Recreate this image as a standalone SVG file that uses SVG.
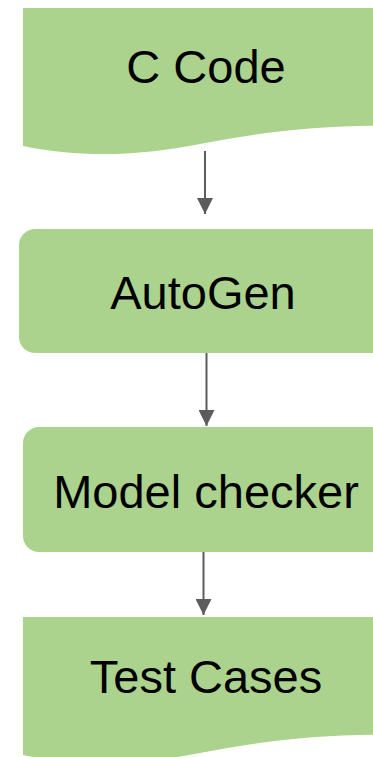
<svg xmlns="http://www.w3.org/2000/svg" width="373" height="757" viewBox="0 0 373 757">
  <style>
    .shape { fill: #acd38e; stroke: none; }
    .label { font-family: "Liberation Sans", Arial, sans-serif; font-size: 47px; fill: #000; text-anchor: middle; }
    .edge { stroke: #5c5c5c; stroke-width: 2; fill: none; }
  </style>
  <defs>
    <marker id="arrow" viewBox="0 0 16 16" refX="16" refY="8" markerWidth="16" markerHeight="16" markerUnits="userSpaceOnUse" orient="auto">
      <path d="M0,0 L16,8 L0,16 Z" fill="#5c5c5c"/>
    </marker>
  </defs>

  <g id="c-code">
    <path class="shape" d="M23,8 H395 V126 C330,124 260,132 200,144 C140,156 80,158 23,146 Z"/>
    <text class="label" x="206" y="83">C Code</text>
  </g>

  <g id="autogen">
    <rect class="shape" x="19" y="229" width="380" height="124" rx="16" ry="16"/>
    <text class="label" x="203" y="309">AutoGen</text>
  </g>

  <g id="model-checker">
    <rect class="shape" x="23" y="427" width="376" height="125" rx="16" ry="16"/>
    <text class="label" x="206" y="508">Model checker</text>
  </g>

  <g id="test-cases">
    <path class="shape" d="M23,617 H395 V735 C330,733 260,741 200,753 C140,765 80,767 23,755 Z"/>
    <text class="label" x="206" y="693">Test Cases</text>
  </g>

  <g id="connectors">
    <line class="edge" x1="205" y1="151" x2="205" y2="214" marker-end="url(#arrow)"/>
    <line class="edge" x1="206.5" y1="353" x2="206.5" y2="426" marker-end="url(#arrow)"/>
    <line class="edge" x1="203.5" y1="552" x2="203.5" y2="615" marker-end="url(#arrow)"/>
  </g>
</svg>
